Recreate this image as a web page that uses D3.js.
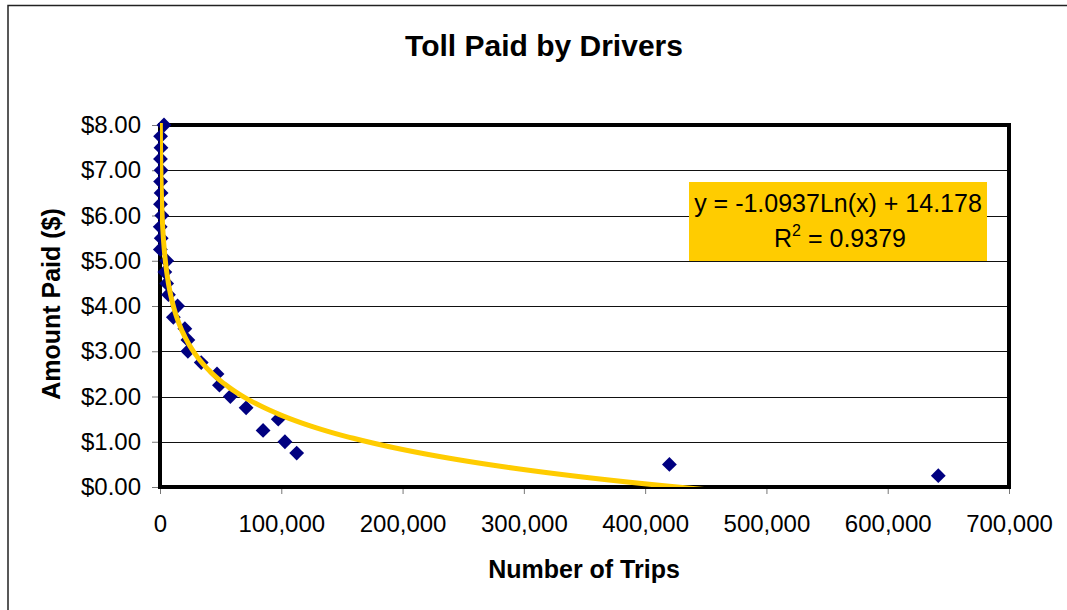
<!DOCTYPE html>
<html>
<head>
<meta charset="utf-8">
<script src="https://cdn.jsdelivr.net/npm/d3@7"></script>
<style>
  body { margin: 0; background: #fff; }
  text { font-family: Arial, "Liberation Sans", sans-serif; }
</style>
</head>
<body>
<svg id="chart"></svg>
<script>
// data
var trips = [3300, 500, 800, 400, 900, 500, 900, 400, 1500, 200, 1000, 300,
  5500, 4000, 5500, 7000, 14500, 11000, 20500, 23000, 23000, 34000, 47000, 49000,
  58000, 71000, 97500, 85000, 103000, 112700, 420000, 641700];
var tolls = [8.00, 7.75, 7.50, 7.25, 7.00, 6.75, 6.50, 6.25, 6.00, 5.75, 5.50, 5.25,
  5.00, 4.75, 4.50, 4.25, 4.00, 3.75, 3.50, 3.25, 3.00, 2.75, 2.50, 2.25,
  2.00, 1.75, 1.50, 1.25, 1.00, 0.75, 0.50, 0.25];
var xTicks = [0, 100000, 200000, 300000, 400000, 500000, 600000, 700000];
var yTicks = [0, 1, 2, 3, 4, 5, 6, 7, 8];
var trendSlope = -1.0937, trendIntercept = 14.178, rSquared = 0.9379;

var W = 1067, H = 610;
var margin = {top: 125, right: 58, bottom: 123, left: 160},
width = W - margin.left - margin.right,
height = H - margin.top - margin.bottom;

var svg = d3.select("#chart").attr("width", W).attr("height", H);

// outer chart frame (runs off the right and bottom edge)
svg.append("rect")
  .attr("x", 8).attr("y", 5.5)
  .attr("width", W + 20).attr("height", H + 20)
  .attr("fill", "none").attr("stroke", "#222").attr("stroke-width", 1.5);

svg.append("text")
  .attr("x", 544).attr("y", 56)
  .attr("text-anchor", "middle")
  .style("font-size", "30px").style("font-weight", "bold")
  .text("Toll Paid by Drivers");

var g = svg.append("g")
  .attr("transform", "translate(" + margin.left + "," + margin.top + ")");

var x = d3.scaleLinear().domain([0, 700000]).range([0, width]);
var y = d3.scaleLinear().domain([0, 8]).range([height, 0]);

// gridlines
g.selectAll(".grid")
  .data(yTicks)
  .enter().append("line")
  .attr("x1", 0).attr("x2", width)
  .attr("y1", function(d) { return Math.round(y(d)) + 0.5; })
  .attr("y2", function(d) { return Math.round(y(d)) + 0.5; })
  .attr("stroke", "#111").attr("stroke-width", 1);

// axes
var yAxis = g.append("g")
  .call(d3.axisLeft(y).tickValues(yTicks).tickSize(8).tickPadding(11)
    .tickFormat(function(d) { return "$" + d3.format(".2f")(d); }));
var xAxis = g.append("g")
  .attr("transform", "translate(0," + height + ")")
  .call(d3.axisBottom(x).tickValues(xTicks).tickSize(7).tickPadding(21)
    .tickFormat(d3.format(",")));
[xAxis, yAxis].forEach(function(a) {
  a.select(".domain").remove();
  a.selectAll("line").attr("stroke", "#777");
  a.selectAll("text").style("font-size", "24px").attr("fill", "#000")
    .style("font-family", "Arial, 'Liberation Sans', sans-serif");
});

// thick plot frame
g.append("rect")
  .attr("x", 0).attr("y", 0).attr("width", width).attr("height", height)
  .attr("fill", "none").attr("stroke", "#000").attr("stroke-width", 4);

// points
g.selectAll(".pt")
  .data(trips.map(function(t, i) { return [t, tolls[i]]; }))
  .enter().append("path")
  .attr("d", d3.symbol().type(d3.symbolDiamond2).size(140))
  .attr("transform", function(d) { return "translate(" + x(d[0]) + "," + y(d[1]) + ")"; })
  .attr("fill", "#000080");

// log trendline
g.append("clipPath").attr("id", "clip")
  .append("rect").attr("x", 0).attr("y", -2).attr("width", width).attr("height", height + 2);
var xs = d3.range(0, 401).map(function(i) {
  return Math.exp(Math.log(d3.min(trips)) + i / 400 * (Math.log(d3.max(trips)) - Math.log(d3.min(trips))));
});
g.append("path")
  .datum(xs)
  .attr("clip-path", "url(#clip)")
  .attr("fill", "none")
  .attr("stroke", "#FFCC00")
  .attr("stroke-width", 5)
  .attr("d", d3.line()
    .x(function(d) { return x(d); })
    .y(function(d) { return y(trendSlope * Math.log(d) + trendIntercept); }));

// equation label
svg.append("rect")
  .attr("x", 689).attr("y", 182).attr("width", 298).attr("height", 79)
  .attr("fill", "#FFCC00");
svg.append("text")
  .attr("x", 838).attr("y", 212).attr("text-anchor", "middle")
  .style("font-size", "25px")
  .text("y = " + trendSlope + "Ln(x) + " + trendIntercept);
var r2 = svg.append("text")
  .attr("x", 840).attr("y", 247).attr("text-anchor", "middle")
  .style("font-size", "25px");
r2.append("tspan").text("R");
r2.append("tspan").attr("dy", -11).style("font-size", "16px").text("2");
r2.append("tspan").attr("dy", 11).text(" = " + rSquared);

// axis titles
svg.append("text")
  .attr("x", 584).attr("y", 578).attr("text-anchor", "middle")
  .style("font-size", "25px").style("font-weight", "bold")
  .text("Number of Trips");
svg.append("text")
  .attr("transform", "translate(60,304) rotate(-90)")
  .attr("text-anchor", "middle")
  .style("font-size", "25px").style("font-weight", "bold")
  .text("Amount Paid ($)");
</script>
</body>
</html>
